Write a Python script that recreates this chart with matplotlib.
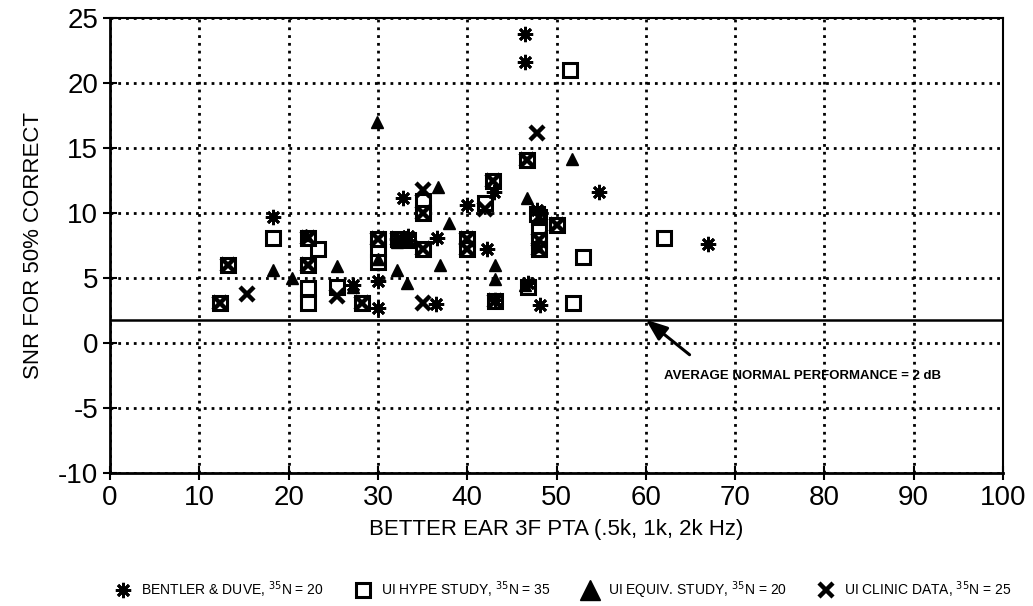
import matplotlib
matplotlib.use("Agg")
import matplotlib.pyplot as plt
from matplotlib.lines import Line2D

plt.rcParams['font.family'] = ['Liberation Sans', 'DejaVu Sans']
plt.rcParams['axes.unicode_minus'] = False

# Bentler & Duve (asterisk)
bd_x = [18.3, 27.2, 30.0, 30.0, 32.8, 32.1, 36.6, 36.5, 40.0, 42.2, 43.0, 46.5, 46.5, 46.8, 48.2, 54.7, 67.0, 33.4, 43.1, 47.8]
bd_y = [9.7, 4.5, 4.8, 2.7, 11.2, 8.0, 8.1, 3.0, 10.6, 7.2, 11.6, 23.8, 21.6, 4.6, 2.9, 11.6, 7.6, 8.2, 3.3, 10.2]

# UI hype study (open square)
hy_x = [18.3, 23.3, 22.2, 22.2, 25.4, 30.0, 30.0, 35.0, 46.8, 48.0, 51.5, 51.8, 53.0, 62.0, 42.0,
        12.3, 13.2, 22.2, 22.2, 28.2, 30.0, 32.2, 33.4, 35.0, 35.0, 40.0, 40.0, 42.9, 46.7, 48.0, 48.0, 48.0, 50.1, 43.1, 47.8]
hy_y = [8.1, 7.2, 4.2, 3.1, 4.3, 7.2, 6.2, 10.9, 4.3, 8.7, 21.0, 3.1, 6.6, 8.1, 10.8,
        3.1, 6.0, 8.1, 6.0, 3.1, 8.0, 8.0, 7.9, 10.0, 7.2, 8.0, 7.2, 12.5, 14.1, 9.7, 7.9, 7.2, 9.1, 3.2, 9.9]

# UI equiv. study (triangle)
eq_x = [18.3, 20.4, 25.4, 29.9, 32.1, 33.3, 36.7, 37.0, 38.0, 43.1, 43.1, 46.7, 51.7, 32.1, 30.0, 27.2, 22.0, 47.8, 33.0, 46.5]
eq_y = [5.6, 5.0, 5.9, 17.0, 5.6, 4.6, 12.0, 6.0, 9.2, 6.0, 4.9, 11.2, 14.2, 7.8, 6.5, 4.3, 8.3, 7.5, 8.0, 4.5]

# UI clinic data (X)
cl_x = [15.3, 25.4, 35.0, 47.8, 35.0, 42.0, 12.3, 13.2, 22.2, 22.2, 28.2, 30.0, 32.2, 33.4, 35.0, 35.0,
        40.0, 40.0, 42.9, 46.7, 48.0, 48.0, 48.0, 50.1, 43.1]
cl_y = [3.8, 3.6, 11.8, 16.2, 3.1, 10.3, 3.1, 6.0, 8.1, 6.0, 3.1, 8.0, 8.0, 7.9, 10.0, 7.2,
        8.0, 7.2, 12.5, 14.1, 9.7, 7.9, 7.2, 9.1, 3.2]

normal_level = 1.8
x_ticks = list(range(0, 101, 10))
y_ticks = list(range(-10, 26, 5))

fig = plt.figure(figsize=(10.33, 6.06), dpi=100)
ax = fig.add_axes([0.1065, 0.2195, 0.8645, 0.7505])

ax.set_xlim(0, 100)
ax.set_ylim(-10, 25)
ax.set_xticks(x_ticks)
ax.set_yticks(y_ticks)
ax.grid(True, color='black', linestyle=(0, (1, 1.8)), linewidth=2.0)
ax.tick_params(direction='inout', length=10, width=1.5, labelsize=20, colors='black')
for s in ['left', 'bottom']:
    ax.spines[s].set_linewidth(2.0)
for s in ['top', 'right']:
    ax.spines[s].set_linewidth(1.5)

ax.axhline(normal_level, color='black', linewidth=1.8, zorder=2)

ms = 10
ax.plot(hy_x, hy_y, linestyle='none', marker='s', markersize=ms, markerfacecolor='white',
        markeredgecolor='black', markeredgewidth=2.2, zorder=3)
ax.plot(cl_x, cl_y, linestyle='none', marker='x', markersize=ms, markeredgecolor='black',
        markeredgewidth=3.2, zorder=4)
ax.plot(eq_x, eq_y, linestyle='none', marker='^', markersize=8, color='black', zorder=5)
ax.plot(bd_x, bd_y, linestyle='none', marker=(8, 2, 0), markersize=11, markeredgecolor='black',
        markeredgewidth=2.0, zorder=6)

ax.annotate('', xy=(60, normal_level), xytext=(64.9, -0.9),
            arrowprops=dict(arrowstyle='-|>,head_length=1.3,head_width=0.5', color='black', lw=2.2,
                            shrinkA=0, shrinkB=0), zorder=7)
ax.text(62.0, -2.5, 'AVERAGE NORMAL PERFORMANCE = 2 dB', fontsize=9.5, fontweight='bold',
        ha='left', va='center', zorder=7)

ax.set_xlabel('BETTER EAR 3F PTA (.5k, 1k, 2k Hz)', fontsize=16, labelpad=6)
ax.set_ylabel('SNR FOR 50% CORRECT', fontsize=16, labelpad=10)

handles = [
    Line2D([], [], linestyle='none', marker=(8, 2, 0), markersize=11, markeredgecolor='black', markeredgewidth=2.0),
    Line2D([], [], linestyle='none', marker='s', markersize=10, markerfacecolor='white', markeredgecolor='black', markeredgewidth=2.2),
    Line2D([], [], linestyle='none', marker='^', markersize=14, color='black'),
    Line2D([], [], linestyle='none', marker='x', markersize=10, markeredgecolor='black', markeredgewidth=3.2),
]
labels = [r'BENTLER & DUVE, $^{35}$N = 20', r'UI HYPE STUDY, $^{35}$N = 35',
          r'UI EQUIV. STUDY, $^{35}$N = 20', r'UI CLINIC DATA, $^{35}$N = 25']
fig.legend(handles, labels, loc='center', bbox_to_anchor=(0.545, 0.026), ncol=4, frameon=False,
           fontsize=10, handletextpad=0.7, columnspacing=2.2, handlelength=1.2)

fig.savefig('out.png', dpi=100)
